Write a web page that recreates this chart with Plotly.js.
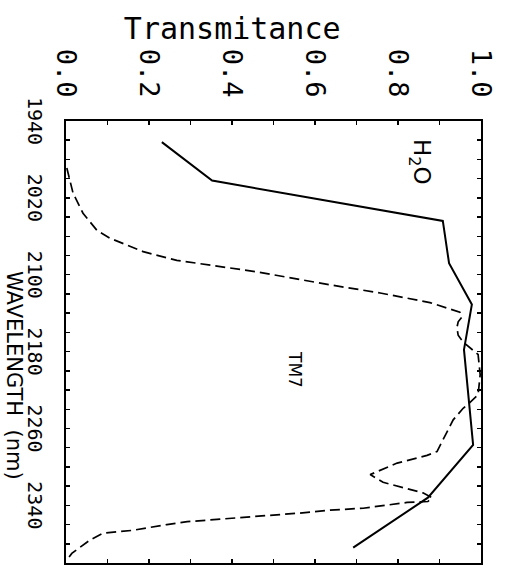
<!DOCTYPE html>
<html><head><meta charset="utf-8">
<script src="https://cdn.plot.ly/plotly-3.0.1.min.js"></script>
<style>
html,body{margin:0;padding:0;width:515px;height:566px;overflow:hidden;background:#fff;}
#wrap{position:absolute;left:0;top:0;width:566px;height:515px;transform-origin:0 0;transform:translateX(515px) rotate(90deg);}
</style></head><body>
<div id="wrap"></div>
<script>
// H2O transmittance (solid)
const h2oWavelength = [1962, 2002, 2044, 2088, 2131, 2178, 2277, 2332, 2384];
const h2oTransmittance = [0.231, 0.352, 0.908, 0.923, 0.978, 0.959, 0.981, 0.872, 0.692];
// TM7 filter response (dashed)
const tm7Wavelength = [1989, 2015, 2036, 2054, 2062, 2076, 2085, 2090, 2097, 2111, 2119, 2129, 2139, 2144, 2149, 2155, 2163, 2170, 2176, 2183, 2204, 2225, 2233, 2239, 2251, 2264, 2275, 2284, 2288, 2296, 2308, 2316, 2327, 2332, 2336, 2337, 2343, 2345, 2348, 2353, 2357, 2360, 2366, 2369, 2376, 2390, 2397];
const tm7Response = [0.002, 0.017, 0.041, 0.075, 0.106, 0.186, 0.267, 0.347, 0.460, 0.643, 0.757, 0.877, 0.949, 0.954, 0.945, 0.942, 0.945, 0.957, 0.973, 0.993, 0.998, 0.993, 0.973, 0.957, 0.933, 0.918, 0.906, 0.894, 0.870, 0.798, 0.733, 0.764, 0.860, 0.882, 0.872, 0.822, 0.716, 0.636, 0.564, 0.402, 0.292, 0.243, 0.161, 0.089, 0.058, 0.014, 0.002];

const wavelengthTicks = [1940, 2020, 2100, 2180, 2260, 2340];
const transmittanceTicks = [0.0, 0.2, 0.4, 0.6, 0.8, 1.0];

const mono = "DejaVu Sans Mono";
const traces = [
  {x: h2oWavelength, y: h2oTransmittance, type: "scatter", mode: "lines",
   line: {color: "#000", width: 2}, hoverinfo: "skip"},
  {x: tm7Wavelength, y: tm7Response, type: "scatter", mode: "lines",
   line: {color: "#000", width: 1.7, dash: "10px,5px"}, hoverinfo: "skip"}
];

const layout = {
  width: 566, height: 515,
  margin: {l: 121, r: 3, t: 34, b: 66, pad: 0},
  paper_bgcolor: "#fff", plot_bgcolor: "#fff",
  showlegend: false,
  xaxis: {
    range: [1940, 2400], tickmode: "array", tickvals: wavelengthTicks,
    ticktext: wavelengthTicks.map(String),
    ticks: "inside", ticklen: 4, tickwidth: 1.5, tickcolor: "#000",
    minor: {dtick: 20, tick0: 1940, ticks: "inside", ticklen: 4, tickwidth: 1.5, tickcolor: "#000", showgrid: false},
    showline: true, linecolor: "#000", linewidth: 2, mirror: "ticks",
    showgrid: false, zeroline: false,
    tickfont: {family: mono, size: 20, color: "#000"},
    ticklabelstandoff: 12
  },
  yaxis: {
    range: [0, 1], tickmode: "array", tickvals: transmittanceTicks,
    ticktext: transmittanceTicks.map(v => v.toFixed(1)),
    ticks: "inside", ticklen: 4, tickwidth: 1.5, tickcolor: "#000",
    minor: {dtick: 0.1, tick0: 0, ticks: "inside", ticklen: 4, tickwidth: 1.5, tickcolor: "#000", showgrid: false},
    showline: true, linecolor: "#000", linewidth: 2, mirror: "ticks",
    showgrid: false, zeroline: false,
    tickfont: {family: mono, size: 27, color: "#000"},
    ticklabelstandoff: 16
  },
  annotations: [
    {text: "Transmitance", xref: "paper", yref: "paper", x: -0.21, y: 0.40,
     textangle: -90, showarrow: false, xanchor: "center", yanchor: "middle",
     font: {family: mono, size: 30, color: "#000"}},
    {text: "WAVELENGTH  (nm)", xref: "paper", yref: "paper", x: 0.575, y: -0.126,
     showarrow: false, xanchor: "center", yanchor: "middle",
     font: {family: "DejaVu Sans", size: 21, color: "#000"}},
    {text: "H<sub>2</sub>O", xref: "x", yref: "y", x: 1983, y: 0.853,
     showarrow: false, xanchor: "center", yanchor: "middle",
     font: {family: "DejaVu Sans", size: 23, color: "#000"}},
    {text: "TM7", xref: "x", yref: "y", x: 2199, y: 0.552,
     showarrow: false, xanchor: "center", yanchor: "middle",
     font: {family: "DejaVu Sans", size: 17, color: "#000"}}
  ]
};

Plotly.newPlot("wrap", traces, layout, {staticPlot: true, displayModeBar: false});
</script>
</body></html>
